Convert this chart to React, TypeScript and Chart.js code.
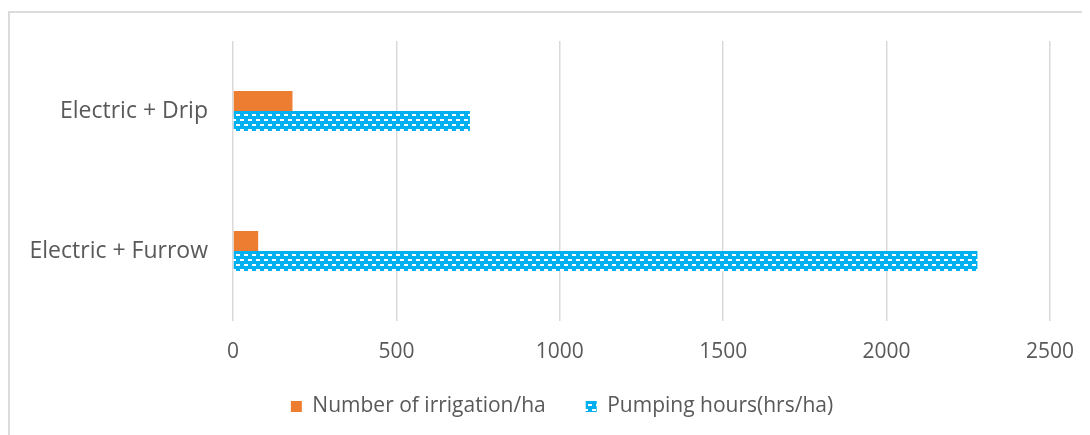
import React, { useEffect, useRef } from "react";
import { Chart, registerables } from "chart.js";

Chart.register(...registerables);

const categories = ["Electric + Drip", "Electric + Furrow"];
const irrigationValues = [182, 77];
const pumpingValues = [725, 2278];
const seriesLabels = ["Number of irrigation/ha", "Pumping hours(hrs/ha)"];
const xTicks = [0, 500, 1000, 1500, 2000, 2500];

const ORANGE = "#ED7D31";
const BLUE = "#00B0F0";
const TEXT = "#595959";
const FONT = "'Open Sans', 'Noto Sans', sans-serif";
const LEGEND_SHIFT_Y = 5;
const LEGEND_SHIFT_X = 13;

function makePattern(): CanvasPattern | string {
  const c = document.createElement("canvas");
  c.width = 8;
  c.height = 10;
  const g = c.getContext("2d");
  if (!g) return BLUE;
  g.fillStyle = BLUE;
  g.fillRect(0, 0, 8, 10);
  g.fillStyle = "#ffffff";
  g.fillRect(0, 1, 4, 2);
  g.fillRect(4, 6, 4, 2);
  const p = g.createPattern(c, "repeat");
  return p || BLUE;
}

const legendShiftPlugin = {
  id: "legendShift",
  afterLayout(chart: any) {
    const lg = chart.legend;
    if (lg) {
      lg.top -= LEGEND_SHIFT_Y;
      lg.bottom -= LEGEND_SHIFT_Y;
      lg.left += LEGEND_SHIFT_X;
      lg.right += LEGEND_SHIFT_X;
    }
  },
};

export default function App() {
  const ref = useRef<HTMLCanvasElement | null>(null);

  useEffect(() => {
    document.body.style.overflow = "hidden";
    if (!ref.current) return;
    const pattern = makePattern();
    const chart = new Chart(ref.current, {
      type: "bar",
      data: {
        labels: categories,
        datasets: [
          {
            label: seriesLabels[0],
            data: irrigationValues,
            backgroundColor: ORANGE,
            borderWidth: 0,
            categoryPercentage: 0.2857,
            barPercentage: 1,
          },
          {
            label: seriesLabels[1],
            data: pumpingValues,
            backgroundColor: pattern as any,
            borderWidth: 0,
            categoryPercentage: 0.2857,
            barPercentage: 1,
          },
        ],
      },
      options: {
        indexAxis: "y",
        animation: false,
        responsive: false,
        layout: { padding: { left: 0, right: 0, top: 33, bottom: 3 } },
        scales: {
          x: {
            min: 0,
            max: 2500,
            afterBuildTicks: (scale: any) => {
              scale.ticks = xTicks.map((v) => ({ value: v }));
            },
            afterFit: (scale: any) => {
              scale.height = 40;
              scale.paddingLeft = 0;
              scale.paddingRight = 0;
            },
            grid: {
              color: "#d9d9d9",
              lineWidth: 1.5,
              drawTicks: false,
            },
            border: { display: false },
            ticks: {
              color: TEXT,
              font: { family: FONT, size: 21 },
              padding: 18,
              callback: (v: any) => String(v),
            },
          },
          y: {
            afterFit: (scale: any) => {
              scale.width = 225;
              scale.paddingTop = 0;
              scale.paddingBottom = 0;
            },
            grid: { display: false, drawTicks: false },
            border: { display: false },
            ticks: {
              color: TEXT,
              font: { family: FONT, size: 23 },
              padding: 25,
            },
          },
          yRight: {
            type: "category",
            position: "right",
            display: true,
            afterFit: (scale: any) => {
              scale.width = 40;
              scale.paddingTop = 0;
              scale.paddingBottom = 0;
            },
            grid: { display: false, drawTicks: false },
            border: { display: false },
            ticks: { display: false },
          },
        },
        plugins: {
          legend: {
            position: "bottom",
            labels: {
              boxWidth: 11,
              boxHeight: 11,
              padding: 40,
              color: TEXT,
              font: { family: FONT, size: 21 },
            },
          },
          tooltip: { enabled: false },
        },
      },
      plugins: [legendShiftPlugin],
    });
    return () => chart.destroy();
  }, []);

  return (
    <div style={{ width: 1082, height: 427, overflow: "hidden", position: "relative" }}>
      <div
        style={{
          position: "absolute",
          left: 0,
          top: 3,
          width: 1200,
          height: 600,
          border: "2px solid #dcdcdc",
          boxSizing: "border-box",
        }}
      />
      <canvas
        ref={ref}
        width={1082}
        height={427}
        style={{ position: "absolute", left: 0, top: 0 }}
      />
    </div>
  );
}
